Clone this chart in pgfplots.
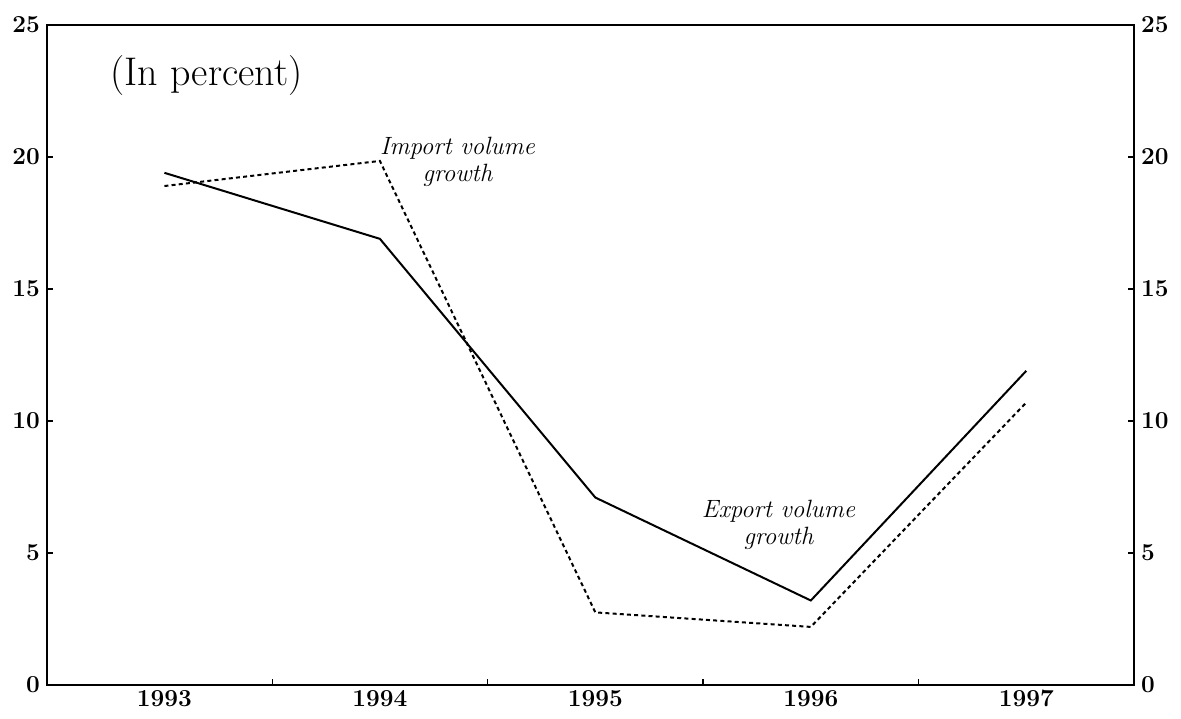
\documentclass[border=0pt]{standalone}
\usepackage{pgfplots}
\pgfplotsset{compat=1.18}
\begin{document}
\begin{tikzpicture}
\pgfplotsset{
  common/.style={
    scale only axis,
    width=543.5pt, height=330pt,
    xmin=1992.455, xmax=1997.5,
    ymin=0, ymax=25,
    axis line style={line width=0.9pt},
    ytick={0,5,10,15,20,25},
    yticklabels={0,5,10,15,20,25},
    major tick length=3pt,
    minor tick length=3pt,
    tick align=inside,
    tick style={line width=0.6pt,black},
    ticklabel style={font=\fontsize{12.2}{14}\selectfont\bfseries},
  }
}
\begin{axis}[
  common,
  xtick={1993,1994,1995,1996,1997},
  xticklabels={1993,1994,1995,1996,1997},
  xtick pos=bottom,
  major x tick style={draw=none},
  minor xtick={1993.5,1994.5,1995.5,1996.5},
  yticklabel pos=left,
  xticklabel style={yshift=1pt},
  clip=false,
]
\addplot[black, line width=1pt] coordinates {
  (1993,19.4) (1994,16.9) (1995,7.1) (1996,3.2) (1997,11.9)};
\addplot[black, line width=1pt, dash pattern=on 2pt off 1.6pt] coordinates {
  (1993,18.9) (1994,19.85) (1995,2.75) (1996,2.2) (1997,10.7)};
\node[font=\fontsize{20}{22}\selectfont] at (axis cs:1993.195,23.1) {(In percent)};
\node[font=\fontsize{12.5}{13.5}\selectfont\itshape, align=center] at (axis cs:1994.36,19.8) {Import volume\\growth};
\node[font=\fontsize{12.5}{13.5}\selectfont\itshape, align=center] at (axis cs:1995.85,6.05) {Export volume\\growth};
\coordinate (SW) at (rel axis cs:0,0);
\coordinate (NE) at (rel axis cs:1,1);
\end{axis}
\begin{axis}[
  common,
  hide x axis,
  axis y line*=right,
  yticklabel pos=right,
]
\addplot[draw=none] coordinates {(1993,0)};
\end{axis}
\pgfresetboundingbox
\path[use as bounding box] ([shift={(-23.5pt,-17pt)}]SW) rectangle ([shift={(23.5pt,12.5pt)}]NE);
\end{tikzpicture}
\end{document}
